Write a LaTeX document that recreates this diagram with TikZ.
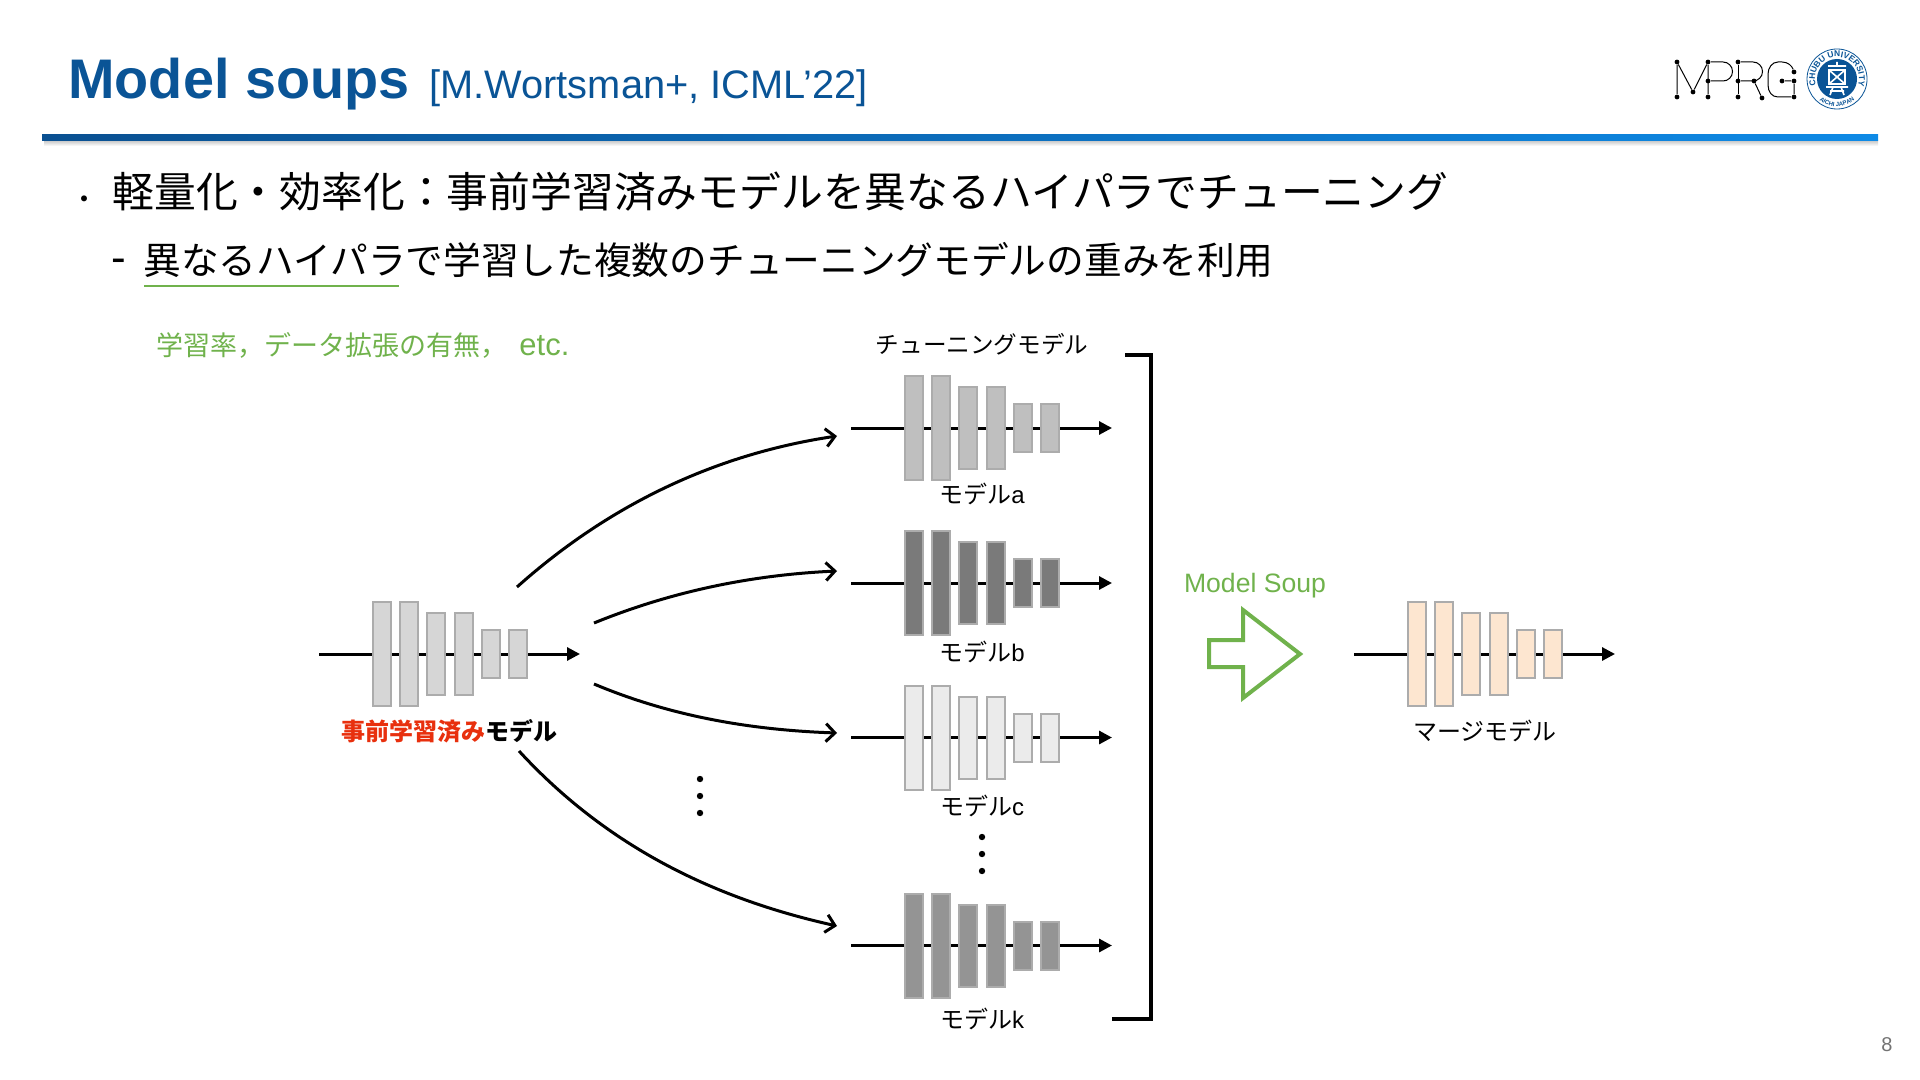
\documentclass[tikz,border=0pt]{standalone}
\usepackage{fontspec}
\setmainfont{Liberation Sans}
\newfontfamily\jp{Noto Sans CJK JP}
\usetikzlibrary{arrows.meta,decorations.text}
\definecolor{titleblue}{RGB}{10,84,150}
\definecolor{rulestart}{RGB}{10,80,145}
\definecolor{ruleend}{RGB}{14,138,230}
\definecolor{soupgreen}{RGB}{112,178,76}
\definecolor{pretrainred}{RGB}{232,48,14}
\definecolor{netedge}{RGB}{172,172,172}
\definecolor{mergefill}{RGB}{253,230,208}
\tikzset{
  netbox/.style={draw=netedge,line width=1pt,inner sep=0pt,minimum width=9pt},
  netline/.style={line width=1.5pt,-{Triangle[length=6.5pt,width=6.5pt]}},
  tune/.style={line width=1.5pt,-{Straight Barb[length=4.5pt,width=9pt]}},
  caption/.style={inner sep=0pt,font=\fontsize{12}{12}\selectfont},
  dotmark/.style={circle,fill=black,inner sep=0pt,minimum size=3.2pt},
  logodot/.style={circle,fill=black,inner sep=0pt,minimum size=2.4pt},
}
\newcommand{\netmodel}[4]{
  \coordinate (#1in) at (#2,#3);
  \coordinate (#1out) at (#2+261,#3);
  \draw[netline] (#1in)--(#1out);
  \foreach \n/\dx/\hh in {1/62.5/52,2/89.5/52,3/117/41,4/144.5/41,5/171.5/24,6/198.5/24}
    \node[netbox,fill=#4,minimum height=\hh pt] (#1box\n) at (#2+\dx,#3) {};
}
\begin{document}
\begin{tikzpicture}[x=0.5pt,y=-0.5pt]
\useasboundingbox (0,0) rectangle (1920,1080);
\node[anchor=base west,inner sep=0pt,text=titleblue,font=\bfseries\fontsize{27.9}{28}\selectfont] (title) at (68,99) {Model soups};
\node[anchor=base west,inner sep=0pt,text=titleblue,font=\fontsize{19.9}{20}\selectfont] (cite) at (429,99) {[M.Wortsman+, ICML’22]};
\shade[top color=black!20,bottom color=white] (44,141) rectangle (1878,146);
\shade[left color=rulestart,right color=ruleend] (42,135) rectangle (1878,141);
\node[inner sep=0pt,font=\jp\fontsize{14}{14}\selectfont] (bullet) at (84,203) {・};
\node[anchor=west,inner sep=0pt,font=\jp\fontsize{20.9}{21}\selectfont] (line1) at (112,192) {軽量化・効率化：事前学習済みモデルを異なるハイパラでチューニング};
\node[inner sep=0pt,font=\fontsize{22}{22}\selectfont] (dash) at (119,266) {-};
\node[anchor=west,inner sep=0pt,font=\jp\fontsize{18.85}{19}\selectfont] (line2) at (143,260) {異なるハイパラで学習した複数のチューニングモデルの重みを利用};
\coordinate (ulstart) at (144,286);
\coordinate (ulend) at (399,286);
\draw[soupgreen,line width=0.9pt] (ulstart)--(ulend);
\node[anchor=west,inner sep=0pt,text=soupgreen,font=\fontsize{15.5}{16}\selectfont] (params) at (156,345) {{\jp\fontsize{13.5}{14}\selectfont 学習率，データ拡張の有無，}\hspace{6pt}etc.};
\netmodel{pre}{319}{654}{black!16}
\netmodel{ma}{851}{428}{black!25}
\netmodel{mb}{851}{583}{black!52}
\netmodel{mc}{851}{737.5}{black!8}
\netmodel{mk}{851}{945.5}{black!42}
\netmodel{merge}{1354}{654}{mergefill}
\node[caption,font=\jp\bfseries\fontsize{12}{12}\selectfont] (prelabel) at (449,731) {\textcolor{pretrainred}{事前学習済み}モデル};
\node[caption,font=\jp\fontsize{11.8}{12}\selectfont] (tunelabel) at (982,344) {チューニングモデル};
\node[caption] (alabel) at (982,494) {{\jp モデル}a};
\node[caption] (blabel) at (982,652) {{\jp モデル}b};
\node[caption] (clabel) at (982,806) {{\jp モデル}c};
\node[caption] (klabel) at (982,1019) {{\jp モデル}k};
\node[caption,font=\jp\fontsize{12}{12}\selectfont] (mergelabel) at (1485,731) {マージモデル};
\coordinate (t1a) at (517,587);
\coordinate (t1b) at (837,436);
\coordinate (t2a) at (594,623);
\coordinate (t2b) at (837,571);
\coordinate (t3a) at (594,684);
\coordinate (t3b) at (837,733);
\coordinate (t4a) at (519,751);
\coordinate (t4b) at (837,926);
\draw[tune] (t1a) .. controls (620,495) and (730,452) .. (t1b);
\draw[tune] (t2a) .. controls (670,592) and (750,575) .. (t2b);
\draw[tune] (t3a) .. controls (670,716) and (750,730) .. (t3b);
\draw[tune] (t4a) .. controls (610,850) and (720,900) .. (t4b);
\foreach \n/\yy in {1/779,2/796,3/813}
  \node[dotmark] (vdots\n) at (700,\yy) {};
\foreach \n/\yy in {1/837,2/854,3/871}
  \node[dotmark] (hdots\n) at (982,\yy) {};
\coordinate (brtop) at (1125,355);
\coordinate (brbot) at (1112,1019);
\draw[line width=1.75pt] (brtop)--(1151,355)--(1151,1019)--(brbot);
\node[caption,text=soupgreen,font=\fontsize{13.3}{14}\selectfont] (souplabel) at (1255,586) {Model Soup};
\draw[soupgreen,line width=2pt,miter limit=10] (1209,640)--(1243,640)--(1243,610)--(1300,654)--(1243,698)--(1243,667)--(1209,667)--cycle;
\node[logodot] (m1) at (1677,62) {};
\node[logodot] (m2) at (1677,97) {};
\node[logodot] (m3) at (1693,92) {};
\node[logodot] (m4) at (1708,62) {};
\node[logodot] (m5) at (1708,81) {};
\node[logodot] (m6) at (1708,97) {};
\draw[line width=0.5pt] (m2)--(m1)--(m3)--(m4)--(m6);
\draw[line width=0.5pt] (m4)--(1723,62) arc[start angle=-90,end angle=90,radius=9.5] -- (m5);
\node[logodot] (r1) at (1738,62) {};
\node[logodot] (r2) at (1738,81) {};
\node[logodot] (r3) at (1738,97) {};
\node[logodot] (r4) at (1754,81) {};
\node[logodot] (r5) at (1762,98) {};
\draw[line width=0.5pt] (r1)--(r3);
\draw[line width=0.5pt] (r1)--(1753,62) arc[start angle=-90,end angle=90,radius=9.5] -- (r2);
\draw[line width=0.5pt] (r4)--(r5);
\node[logodot] (g1) at (1794,72) {};
\node[logodot] (g2) at (1782,81) {};
\node[logodot] (g3) at (1794,81) {};
\node[logodot] (g4) at (1794,97) {};
\draw[line width=0.5pt] (g1) .. controls (1792,66) and (1788,62) .. (1782,62) -- (1778,62) .. controls (1772,62) and (1768,68) .. (1768,74) -- (1768,85) .. controls (1768,92) and (1772,97) .. (1778,97) -- (g4) -- (g3) -- (g2);
\begin{scope}[shift={(1837,79)},x=0.5pt,y=0.5pt]
\draw[titleblue,line width=0.4pt] (0,0) circle (30);
\fill[titleblue] (0,0) circle (20);
\path[decorate,decoration={text along path,text align=center,text={|\fontsize{4.2}{5}\selectfont\bfseries\color{titleblue}|CHUBU UNIVERSITY}}] (195:22) arc[start angle=195,end angle=-15,radius=22];
\path[decorate,decoration={text along path,text align=center,text={|\fontsize{3}{4}\selectfont\bfseries\color{titleblue}|AICHI JAPAN}}] (230:27.5) arc[start angle=230,end angle=310,radius=27.5];
\draw[white,line width=0.8pt] (0,17)--(0,13) (-9,13)--(9,13) (-8,9) rectangle (8,-5) (-8,9)--(8,-5) (-8,-5)--(8,9) (-11,-8)--(11,-8) (-7,-12)--(7,-12) (-4,-8)--(-7,-16) (4,-8)--(7,-16);
\end{scope}
\node[inner sep=0pt,text=black!55,font=\fontsize{10}{10}\selectfont] (pagenum) at (1887,1045) {8};
\end{tikzpicture}
\end{document}
